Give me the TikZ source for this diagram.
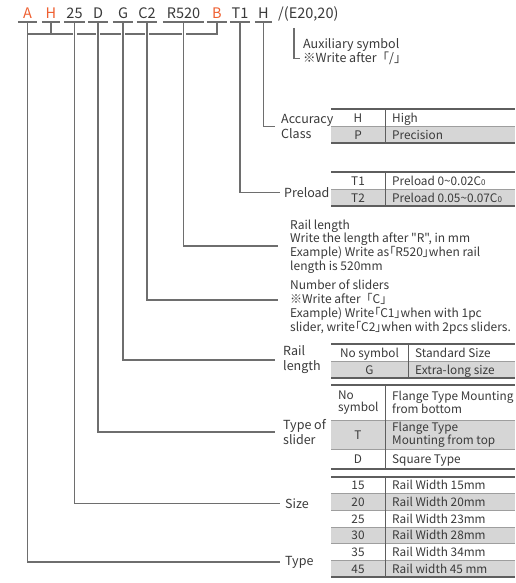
\documentclass[tikz,border=0pt]{standalone}
\usepackage{fontspec}
\setmainfont{Noto Sans CJK SC}[Ligatures=TeXOff, RawFeature={+palt}]
\newfontfamily\fwb{Noto Sans CJK SC}[Ligatures=TeXOff]
\usetikzlibrary{calc}
\definecolor{ln}{HTML}{6E6E6E}
\definecolor{tx}{HTML}{3A3A3A}
\definecolor{org}{HTML}{EF5F30}
\definecolor{rowg}{HTML}{D6D6D6}
\definecolor{bord}{HTML}{5E5E5E}
\tikzset{
  conn/.style={draw=ln, line width=1.4pt},
  gapconn/.style={conn, preaction={draw=white, line width=4pt}},
  code/.style={font=\fontsize{14.5}{15}\selectfont, text=tx, anchor=base, inner xsep=0pt, inner ysep=3pt, text depth=0pt},
  codeo/.style={code, text=org},
  lbl/.style={font=\fontsize{12}{13.7}\selectfont, text=tx, anchor=west, align=left, inner sep=0pt},
  lbl2/.style={lbl, font=\fontsize{12.5}{15}\selectfont},
  cellc/.style={font=\fontsize{11.8}{12}\selectfont, text=tx, anchor=base, inner sep=0pt},
  cellw/.style={cellc, anchor=base west},
  cellm/.style={font=\fontsize{11.8}{12.6}\selectfont, text=tx, anchor=west, align=left, inner sep=0pt},
  tline/.style={draw=bord, line width=1.1pt},
  sline/.style={draw=bord!60, line width=0.6pt},
  vline/.style={draw=bord, line width=0.9pt}
}
\begin{document}
\begin{tikzpicture}[x=1pt,y=-1pt]
\useasboundingbox (0,0) rectangle (515,583);
\fill[white] (0,0) rectangle (515,583);

% ---------- code row ----------
\node[codeo, minimum width=19pt] (cA) at (27.5,19) {A};
\node[codeo, minimum width=18pt] (cH) at (51,19) {H};
\node[code, minimum width=21pt] (c25) at (74.5,19) {25};
\node[code, minimum width=20pt] (cD) at (98,19) {D};
\node[code, minimum width=20pt] (cG) at (123,19) {G};
\node[code, minimum width=20pt] (cC) at (147,19) {C2};
\node[code, minimum width=41pt] (cR) at (183.5,19) {R520};
\node[codeo, minimum width=20pt] (cB) at (217,19) {B};
\node[code, minimum width=20pt] (cT) at (240,19) {T1};
\node[code, minimum width=17pt] (cHH) at (263.5,19) {H};
\node[code, anchor=base west] (cE) at (278,19) {/(E20,20)};
\coordinate (auxtop) at (294,28);
\coordinate (brk) at (0,34);
\coordinate (yRl) at (0,246);
\coordinate (yNs) at (0,300);

% ---------- labels ----------
\node[lbl2] (lAux1) at (303,45) {Auxiliary symbol};
\node[lbl2] (lAux2) at (303,58.5) {※Write after{\fwb 「/」}};
\node[lbl2] (lAcc) at (281,126.5) {Accuracy\\Class};
\node[lbl2] (lPre) at (284,192.5) {Preload};
\node[lbl] (lRl) at (290,246.5) {Rail length\\Write the length after "R", in mm\\Example) Write as「R520」when rail\\length is 520mm};
\node[lbl] (lNs) at (290,307) {Number of sliders\\※Write after{\fwb 「C」}\\Example) Write「C1」when with 1pc\\slider, write「C2」when with 2pcs sliders.};
\node[lbl2] (lRail) at (283,360) {Rail\\length};
\node[lbl2] (lTos) at (283,432) {Type of\\slider};
\node[lbl2] (lSize) at (285,503.5) {Size};
\node[lbl2] (lType) at (285,562) {Type};

% ---------- connectors ----------
\draw[conn] (cA.south |- brk) -- (cB.south |- brk) -- (cB.south);
\draw[conn] (cH.south) -- (cH.south |- brk);
\draw[conn] (cA.south) |- ([xshift=-5pt]lType.west);
\draw[gapconn] (c25.south) |- ([xshift=-5pt]lSize.west);
\draw[gapconn] (cD.south) |- ([xshift=-8pt]lTos.west);
\draw[gapconn] (cG.south) |- ([xshift=-8pt]lRail.west);
\draw[gapconn] (cC.south) |- ($(lNs.west |- yNs)+(-12,0)$);
\draw[gapconn] (cR.south) |- ($(lRl.west |- yRl)+(-12,0)$);
\draw[conn] (cT.south) |- ([xshift=-4pt]lPre.west);
\draw[conn] (cHH.south) |- ([xshift=-6pt]lAcc.west);
\draw[conn] (auxtop) |- ([xshift=-3pt]lAux2.west);
\foreach \n in {cA,cH,c25,cD,cG,cC,cR,cB,cT,cHH}
  \draw[conn] (\n.south west) -- (\n.south east);

% ---------- accuracy table ----------
\fill[rowg] (331,126) rectangle (515,143);
\draw[tline] (331,109) -- (515,109);
\draw[sline] (331,126) -- (515,126);
\draw[tline] (331,143) -- (515,143);
\draw[vline] (385,109) -- (385,143);
\node[cellc] (aH) at (358,122.2) {H};
\node[cellw] (aHigh) at (392,122.2) {High};
\node[cellc] (aP) at (358,139.2) {P};
\node[cellw] (aPr) at (392,139.2) {Precision};

% ---------- preload table ----------
\fill[rowg] (331,189) rectangle (515,206);
\draw[tline] (331,172) -- (515,172);
\draw[sline] (331,189) -- (515,189);
\draw[tline] (331,206) -- (515,206);
\draw[vline] (385,172) -- (385,206);
\node[cellc] (pT1) at (358,185.2) {T1};
\node[cellw] (pT1t) at (392,185.2) {Preload 0\textasciitilde 0.02C\raisebox{-0.6pt}{\fontsize{8}{8}\selectfont 0}};
\node[cellc] (pT2) at (358,202.2) {T2};
\node[cellw] (pT2t) at (392,202.2) {Preload 0.05\textasciitilde 0.07C\raisebox{-0.6pt}{\fontsize{8}{8}\selectfont 0}};

% ---------- rail length table ----------
\fill[rowg] (331,361) rectangle (515,378);
\draw[tline] (331,344) -- (515,344);
\draw[sline] (331,361) -- (515,361);
\draw[tline] (331,378) -- (515,378);
\draw[vline] (408,344) -- (408,378);
\node[cellc] (rNo) at (369.5,357) {No symbol};
\node[cellw] (rStd) at (415,357) {Standard Size};
\node[cellc] (rG) at (369.5,374) {G};
\node[cellw] (rExt) at (415,374) {Extra-long size};

% ---------- type of slider table ----------
\fill[rowg] (331,420) rectangle (515,449);
\draw[tline] (331,385) -- (515,385);
\draw[sline] (331,420) -- (515,420);
\draw[sline] (331,449) -- (515,449);
\draw[tline] (331,469) -- (515,469);
\draw[vline] (385,385) -- (385,469);
\node[cellm] (tNo) at (338,402.5) {No\\symbol};
\node[cellm] (tNot) at (392,402.5) {Flange Type Mounting\\from bottom};
\node[cellc] (tT) at (358,439) {T};
\node[cellm] (tTt) at (392,434.5) {Flange Type\\Mounting from top};
\node[cellc] (tD) at (358,463.4) {D};
\node[cellw] (tDt) at (392,463.4) {Square Type};

% ---------- size table ----------
\fill[rowg] (331,493.67) rectangle (515,510.33);
\fill[rowg] (331,527) rectangle (515,543.67);
\fill[rowg] (331,560.33) rectangle (515,577);
\draw[tline] (331,477) -- (515,477);
\foreach \yy in {493.67,510.33,527,543.67,560.33}
  \draw[sline] (331,\yy) -- (515,\yy);
\draw[tline] (331,577) -- (515,577);
\draw[vline] (385,477) -- (385,577);
\node[cellc] (s15) at (358,489.7) {15};
\node[cellw] (s15t) at (392,489.7) {Rail Width 15mm};
\node[cellc] (s20) at (358,506.4) {20};
\node[cellw] (s20t) at (392,506.4) {Rail Width 20mm};
\node[cellc] (s25) at (358,523.1) {25};
\node[cellw] (s25t) at (392,523.1) {Rail Width 23mm};
\node[cellc] (s30) at (358,539.7) {30};
\node[cellw] (s30t) at (392,539.7) {Rail Width 28mm};
\node[cellc] (s35) at (358,556.4) {35};
\node[cellw] (s35t) at (392,556.4) {Rail Width 34mm};
\node[cellc] (s45) at (358,573.1) {45};
\node[cellw] (s45t) at (392,573.1) {Rail width 45 mm};
\end{tikzpicture}
\end{document}
